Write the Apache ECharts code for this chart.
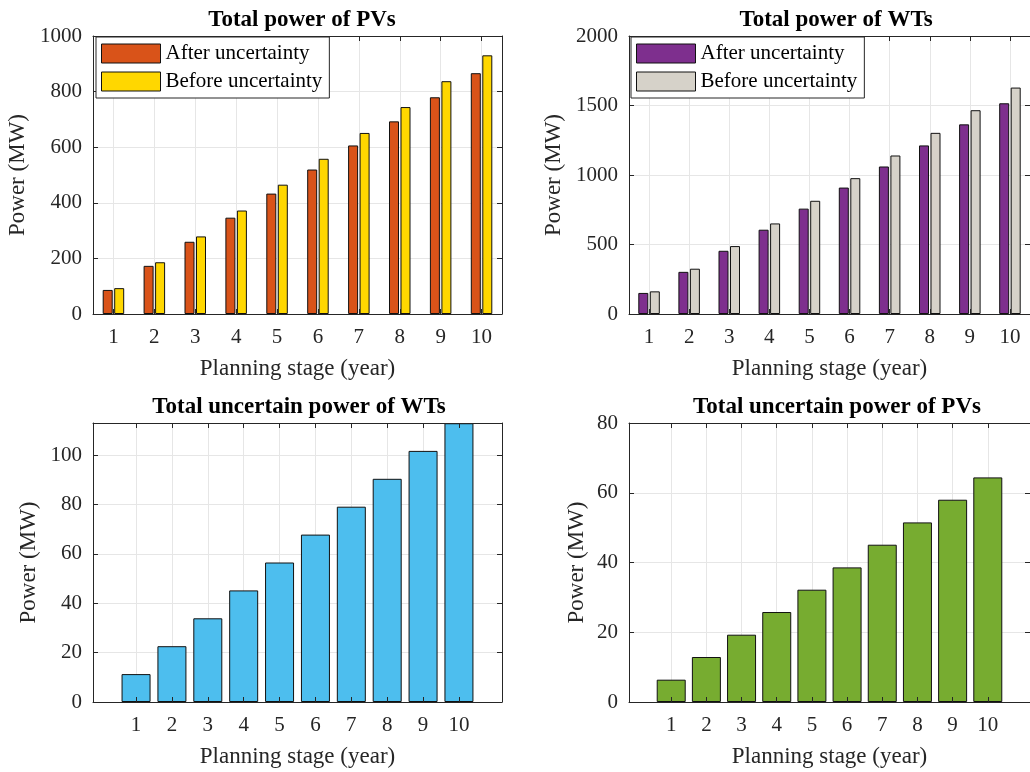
<!DOCTYPE html>
<html>
<head>
<meta charset="utf-8">
<script src="https://cdn.jsdelivr.net/npm/echarts@6/dist/echarts.min.js"></script>
<style>
  html, body { margin: 0; padding: 0; background: #fff; }
  #chart { width: 1030px; height: 772px; }
</style>
</head>
<body>
<div id="chart"></div>
<script>
// Planning stages (years)
const stages = [1, 2, 3, 4, 5, 6, 7, 8, 9, 10];

// Installed power, MW
const pvAfter  = [86.6, 173.2, 259.8, 346.5, 433.1, 519.7, 606.3, 692.9, 779.6, 866.2];
const pvBefore = [93.0, 186.1, 279.1, 372.2, 465.2, 558.3, 651.3, 744.4, 837.4, 930.5];
const wtAfter  = [151.6, 303.2, 454.8, 606.4, 758.0, 909.6, 1061.2, 1212.8, 1364.4, 1516.0];
const wtBefore = [162.9, 325.8, 488.7, 651.6, 814.5, 977.4, 1140.3, 1303.2, 1466.1, 1629.0];

// Uncertain power, MW
const wtUncertain = [11.3, 22.6, 33.9, 45.2, 56.5, 67.8, 79.1, 90.4, 101.7, 112.9];
const pvUncertain = [6.4, 12.9, 19.3, 25.8, 32.2, 38.6, 45.1, 51.5, 58.0, 64.4];

// Tick values
const pvTicks = [0, 200, 400, 600, 800, 1000];
const wtTicks = [0, 500, 1000, 1500, 2000];
const wtUncTicks = [0, 20, 40, 60, 80, 100];
const pvUncTicks = [0, 20, 40, 60, 80];

const FONT = '"Liberation Serif", "Times New Roman", serif';
const INK = '#262626';
const GRIDLINE = '#E6E6E6';

const grids = [
  { left: 93,  top: 36,  width: 409, height: 278 },
  { left: 629, top: 36,  width: 409, height: 278 },
  { left: 93,  top: 423, width: 409, height: 279 },
  { left: 629, top: 423, width: 409, height: 279 }
];

const xRanges = [[0.5, 10.5], [0.5, 10.5], [-0.2, 11.2], [-0.2, 11.2]];
const yRanges = [[0, 1000], [0, 2000], [0, 113], [0, 80]];
const yTickSets = [pvTicks, wtTicks, wtUncTicks, pvUncTicks];
const yNameGaps = [64, 64, 53, 41];

const plain = v => String(v);

const xAxes = [];
const yAxes = [];

grids.forEach((g, gi) => {
  const [xmin, xmax] = xRanges[gi];
  const [ymin, ymax] = yRanges[gi];
  const yt = yTickSets[gi];
  // main x axis: labels, name, vertical grid lines (behind the bars)
  xAxes.push({
    type: 'value', gridIndex: gi, position: 'bottom', min: xmin, max: xmax, z: 0,
    name: 'Planning stage (year)', nameLocation: 'middle', nameGap: 43,
    nameTextStyle: { fontFamily: FONT, fontSize: 23, color: INK },
    axisLine: { show: false },
    axisTick: { show: false, customValues: stages },
    axisLabel: { customValues: stages, formatter: plain, fontFamily: FONT, fontSize: 21, color: INK, margin: 13 },
    splitLine: { show: true, lineStyle: { color: GRIDLINE, width: 1 } }
  });
  // bottom and top frame edges with inward ticks (above the bars)
  ['bottom', 'top'].forEach(pos => {
    xAxes.push({
      type: 'value', gridIndex: gi, position: pos, min: xmin, max: xmax, z: 5,
      axisLine: { show: true, onZero: false, lineStyle: { color: INK, width: 1 } },
      axisTick: { show: true, inside: true, length: 5, customValues: stages, lineStyle: { color: INK } },
      axisLabel: { show: false, customValues: stages },
      splitLine: { show: false }
    });
  });
  // main y axis: labels, name, horizontal grid lines
  yAxes.push({
    type: 'value', gridIndex: gi, position: 'left', min: ymin, max: ymax, z: 0,
    name: 'Power (MW)', nameLocation: 'middle', nameGap: yNameGaps[gi],
    nameTextStyle: { fontFamily: FONT, fontSize: 23, color: INK },
    axisLine: { show: false },
    axisTick: { show: false, customValues: yt },
    axisLabel: { customValues: yt, formatter: plain, fontFamily: FONT, fontSize: 21, color: INK, margin: 11 },
    splitLine: { show: true, lineStyle: { color: GRIDLINE, width: 1 } }
  });
  ['left', 'right'].forEach(pos => {
    yAxes.push({
      type: 'value', gridIndex: gi, position: pos, min: ymin, max: ymax, z: 5,
      axisLine: { show: true, onZero: false, lineStyle: { color: INK, width: 1 } },
      axisTick: { show: true, inside: true, length: 5, customValues: yt, lineStyle: { color: INK } },
      axisLabel: { show: false, customValues: yt },
      splitLine: { show: false }
    });
  });
});

const pairs = vals => stages.map((s, i) => [s, vals[i]]);

const barStyle = color => ({ color: color, borderColor: '#111', borderWidth: 1 });

const series = [
  { name: 'After uncertainty', type: 'bar', xAxisIndex: 0, yAxisIndex: 0,
    barWidth: 10, barGap: '15%', itemStyle: barStyle('#D95319'), data: pairs(pvAfter) },
  { name: 'Before uncertainty', type: 'bar', xAxisIndex: 0, yAxisIndex: 0,
    barWidth: 10, barGap: '15%', itemStyle: barStyle('#FFD700'), data: pairs(pvBefore) },
  { name: 'After uncertainty', type: 'bar', xAxisIndex: 3, yAxisIndex: 3,
    barWidth: 10, barGap: '15%', itemStyle: barStyle('#7E2F8E'), data: pairs(wtAfter) },
  { name: 'Before uncertainty', type: 'bar', xAxisIndex: 3, yAxisIndex: 3,
    barWidth: 10, barGap: '15%', itemStyle: barStyle('#D6D2C9'), data: pairs(wtBefore) },
  { name: 'Uncertain WT power', type: 'bar', xAxisIndex: 6, yAxisIndex: 6,
    barWidth: 29, itemStyle: barStyle('#4DBEEE'), data: pairs(wtUncertain) },
  { name: 'Uncertain PV power', type: 'bar', xAxisIndex: 9, yAxisIndex: 9,
    barWidth: 29, itemStyle: barStyle('#77AC30'), data: pairs(pvUncertain) }
];

const titleStyle = { fontFamily: FONT, fontSize: 23, fontWeight: 'bold', color: '#000' };
const titles = [
  { text: 'Total power of PVs', left: 297, top: 4, textAlign: 'center', textStyle: titleStyle },
  { text: 'Total power of WTs', left: 831, top: 4, textAlign: 'center', textStyle: titleStyle },
  { text: 'Total uncertain power of WTs', left: 294, top: 391, textAlign: 'center', textStyle: titleStyle },
  { text: 'Total uncertain power of PVs', left: 832, top: 391, textAlign: 'center', textStyle: titleStyle }
];

const legendBase = {
  orient: 'vertical', top: 37, itemWidth: 59, itemHeight: 19, itemGap: 7,
  padding: [6, 7, 6, 5], borderColor: INK, borderWidth: 1, backgroundColor: '#fff',
  textStyle: { fontFamily: FONT, fontSize: 21, color: '#000' },
  icon: 'rect', selectedMode: false, z: 10
};
const legendItem = (name, color) => ({ name: name, itemStyle: { color: color, borderColor: '#111', borderWidth: 1 } });

const legends = [
  Object.assign({}, legendBase, { left: 96, data: [
    legendItem('After uncertainty', '#D95319'), legendItem('Before uncertainty', '#FFD700') ] }),
  Object.assign({}, legendBase, { left: 631, data: [
    legendItem('After uncertainty', '#7E2F8E'), legendItem('Before uncertainty', '#D6D2C9') ] })
];

const chart = echarts.init(document.getElementById('chart'), null, { renderer: 'canvas' });
chart.setOption({
  backgroundColor: '#fff',
  animation: false,
  title: titles,
  legend: legends,
  grid: grids,
  xAxis: xAxes,
  yAxis: yAxes,
  series: series
});
</script>
</body>
</html>
